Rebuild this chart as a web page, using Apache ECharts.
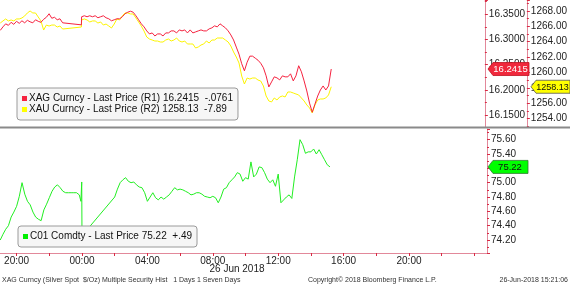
<!DOCTYPE html>
<html><head><meta charset="utf-8">
<script src="https://cdn.jsdelivr.net/npm/echarts@6/dist/echarts.min.js"></script>
<style>html,body{margin:0;padding:0;background:#fff}#c{width:570px;height:285px}</style>
</head><body><div id="c"></div>
<script>
const FONT = 'Liberation Sans, Arial, sans-serif';
function range(a, b, s) { const r = []; for (let v = a; v <= b; v += s) r.push(v); return r; }

// sample times in minutes from 00:00, 26 Jun 2018
const metalTimes = range(-300, -70, 10).concat([-1], range(0, 920, 10));
const brentTimes = range(-300, -10, 10).concat([-4, -1, 0], range(120, 910, 10));

const xagValues = [
  16.318, 16.325, 16.331, 16.328, 16.334, 16.330, 16.336, 16.332, 16.337, 16.333,
  16.338, 16.335, 16.333, 16.339, 16.336, 16.334, 16.340, 16.344, 16.351, 16.342,
  16.344, 16.339, 16.341, 16.333,
  16.329,
  16.345, 16.347, 16.345, 16.347, 16.345, 16.347, 16.343, 16.345, 16.347, 16.343,
  16.341, 16.337, 16.339, 16.341, 16.341, 16.345, 16.351, 16.354, 16.356, 16.354,
  16.347, 16.339, 16.331, 16.325, 16.317, 16.311, 16.313, 16.307, 16.311, 16.311,
  16.307, 16.313, 16.313, 16.317, 16.317, 16.313, 16.319, 16.317, 16.319, 16.313,
  16.319, 16.313, 16.315, 16.317, 16.319, 16.317, 16.317, 16.321, 16.323, 16.327,
  16.325, 16.331, 16.327, 16.323, 16.317, 16.309, 16.299, 16.285, 16.271, 16.252,
  16.238, 16.255, 16.267, 16.267, 16.263, 16.259, 16.253, 16.244, 16.228, 16.206,
  16.216, 16.226, 16.224, 16.220, 16.228, 16.226, 16.226, 16.232, 16.218, 16.228,
  16.248, 16.236, 16.218, 16.198, 16.174, 16.156, 16.172, 16.188, 16.200, 16.208,
  16.200, 16.208, 16.2415
];
const xauValues = [
  1266.43, 1266.70, 1266.96, 1266.70, 1266.83, 1266.70, 1266.96, 1266.96, 1267.09, 1267.35,
  1267.74, 1268.00, 1267.74, 1267.74, 1267.22, 1266.70, 1265.52, 1266.17, 1266.04, 1266.17,
  1266.17, 1265.91, 1266.04, 1265.65,
  1265.91,
  1266.83, 1266.96, 1266.83, 1266.57, 1266.70, 1266.70, 1266.43, 1266.57, 1266.17, 1266.30,
  1266.04, 1265.78, 1266.30, 1266.96, 1266.83, 1267.35, 1267.74, 1267.74, 1267.61, 1267.61,
  1267.09, 1266.57, 1266.04, 1265.39, 1264.61, 1264.35, 1264.22, 1264.09, 1264.09, 1263.96,
  1263.96, 1264.22, 1264.35, 1264.09, 1264.22, 1264.48, 1264.09, 1263.96, 1264.09, 1263.70,
  1263.70, 1263.70, 1263.18, 1263.31, 1263.57, 1263.70, 1264.09, 1263.83, 1264.22, 1264.22,
  1264.48, 1264.48, 1264.48, 1264.22, 1263.96, 1263.44, 1262.66, 1262.01, 1261.23, 1259.53,
  1258.49, 1259.27, 1259.14, 1259.27, 1259.27, 1259.01, 1258.88, 1258.23, 1256.93, 1256.28,
  1256.15, 1256.67, 1256.41, 1256.80, 1256.93, 1256.80, 1257.45, 1257.45, 1257.32, 1257.19,
  1257.06, 1256.67, 1256.28, 1255.76, 1255.37, 1254.72, 1255.76, 1256.41, 1256.54, 1256.54,
  1256.67, 1257.06, 1258.13
];
const co1Values = [
  74.20, 74.28, 74.35, 74.40, 74.52, 74.59, 74.67, 74.81, 75.00, 74.84,
  74.74, 74.69, 74.59, 74.52, 74.49, 74.47, 74.62, 74.70, 74.79, 74.88,
  74.94, 74.97, 74.93, 74.88, 74.86, 74.86, 74.86, 74.86, 74.86, 74.83,
  74.74, 75.01, 74.26,
  74.80, 74.91, 75.00, 75.04, 75.07, 75.02, 75.00, 75.01, 74.97, 74.94,
  74.93, 74.86, 74.74, 74.80, 74.86, 74.79, 74.76, 74.80, 74.77, 74.80,
  74.83, 74.88, 74.93, 74.90, 74.91, 74.90, 74.88, 74.86, 74.83, 74.84,
  74.86, 74.86, 74.84, 74.81, 74.80, 74.79, 74.81, 74.79, 74.72, 74.80,
  74.91, 74.93, 75.00, 75.04, 75.08, 75.14, 75.12, 75.02, 75.07, 75.05,
  75.29, 75.08, 75.12, 75.22, 75.21, 75.14, 75.05, 75.00, 75.04, 74.95,
  75.12, 74.72, 74.76, 74.80, 74.83, 74.78, 75.08, 75.32, 75.60, 75.53,
  75.41, 75.43, 75.43, 75.47, 75.40, 75.46, 75.39, 75.32, 75.25, 75.22
];

const seriesNames = ['XAG Curncy', 'XAU Curncy', 'C01 Comdty'];
const axisTags = ['(R1) ', '(R2) ', ''];
const lastLabels = ['16.2415', '1258.13', '75.22'];
const changes = ['-.0761', '-7.89', '+.49'];
const dateLabel = '26 Jun 2018';
const footer = ['XAG Curncy (Silver Spot  $/Oz) Multiple Security Hist   1 Days 1 Seven Days',
  'Copyright\u00a9 2018 Bloomberg Finance L.P.', '26-Jun-2018 15:21:06'];

const colors = ['#f5223f', '#fcf400', '#22ee22'];
const legendNames = seriesNames.map((n, i) => `${n} - Last Price ${axisTags[i]}${lastLabels[i]}  ${changes[i]}`);

const AXIS_LINE = '#e2889a';
const TICK = '#d82a44';
const X_MIN = -300.9, X_MAX = 1486.2;

function hhmm(v) {
  const h = ((Math.round(v / 60) % 24) + 24) % 24;
  return (h < 10 ? '0' : '') + h + ':00';
}
function yAxis(grid, min, max, step, dec, offset) {
  return {
    type: 'value', gridIndex: grid, position: 'right', offset: offset,
    min: min, max: max, minInterval: step, maxInterval: step, splitNumber: 6,
    axisLine: { show: true, onZero: false, lineStyle: { color: AXIS_LINE, width: 1 } },
    axisTick: { show: true, length: 3, lineStyle: { color: TICK } },
    minorTick: { show: true, splitNumber: 2, length: 2, lineStyle: { color: TICK } },
    splitLine: { show: false },
    axisLabel: { fontFamily: FONT, fontSize: 10, color: '#222', margin: 4,
      showMinLabel: false, showMaxLabel: false,
      formatter: v => v.toFixed(dec) }
  };
}
const legendRich = {
  s0: { width: 5, height: 5, backgroundColor: colors[0], verticalAlign: 'middle' },
  s1: { width: 5, height: 5, backgroundColor: '#ffff00', verticalAlign: 'middle' },
  s2: { width: 5, height: 5, backgroundColor: '#00ee00', verticalAlign: 'middle' },
  t: { fontFamily: FONT, fontSize: 10, color: '#111', padding: [0, 0, 0, 2], lineHeight: 11, verticalAlign: 'middle' }
};
function legendFmt(name) { return `{s${legendNames.indexOf(name)}|}{t|${name}}`; }
function legend(names, left, top) {
  return { data: names, orient: 'vertical', left: left, top: top,
    icon: 'rect', itemWidth: 0, itemHeight: 0, itemGap: 0, selectedMode: false,
    backgroundColor: '#f6f6f6', borderColor: '#9a9a9a', borderWidth: 1, borderRadius: 3,
    padding: [5, 5, 5, 0], formatter: legendFmt,
    textStyle: { fontFamily: FONT, fontSize: 10, color: '#111', lineHeight: 11, rich: legendRich } };
}

const chart = echarts.init(document.getElementById('c'), null, { renderer: 'canvas' });
const option = {
  animation: false,
  backgroundColor: '#ffffff',
  textStyle: { fontFamily: FONT },
  grid: [
    { left: 0, right: 83, top: 0, height: 127 },
    { left: 0, right: 83, top: 129, bottom: 32 }
  ],
  xAxis: [
    { type: 'value', gridIndex: 0, min: X_MIN, max: X_MAX, show: false, axisLine: { onZero: false } },
    { type: 'value', gridIndex: 1, min: X_MIN, max: X_MAX, minInterval: 120, maxInterval: 120, splitNumber: 15,
      axisLine: { show: true, onZero: false, lineStyle: { color: AXIS_LINE, width: 1 } },
      axisTick: { show: true, length: 3, lineStyle: { color: TICK } },
      splitLine: { show: false },
      axisLabel: { fontFamily: FONT, fontSize: 10, color: '#222', margin: 3,
        showMinLabel: false, showMaxLabel: false,
        formatter: v => (Math.abs(v % 240) > 0.01 || v >= 1440 || v < -290) ? '' : hhmm(v) } }
  ],
  yAxis: [
    yAxis(0, 16.1267, 16.3782, 0.05, 4, 0),
    yAxis(0, 1252.89, 1269.43, 2, 2, 42),
    yAxis(1, 74.019, 75.749, 0.2, 2, 0)
  ],
  legend: [
    legend([legendNames[0], legendNames[1]], 17, 88),
    legend([legendNames[2]], 18, 226)
  ],
  series: [
    { type: 'line', name: legendNames[1], xAxisIndex: 0, yAxisIndex: 1, showSymbol: false, symbol: 'none',
      data: metalTimes.map((t, i) => [t, xauValues[i]]),
      lineStyle: { width: 1, color: colors[1] }, itemStyle: { color: colors[1] } },
    { type: 'line', name: legendNames[0], xAxisIndex: 0, yAxisIndex: 0, showSymbol: false, symbol: 'none',
      data: metalTimes.map((t, i) => [t, xagValues[i]]),
      lineStyle: { width: 1, color: colors[0] }, itemStyle: { color: colors[0] } },
    { type: 'line', name: legendNames[2], xAxisIndex: 1, yAxisIndex: 2, showSymbol: false, symbol: 'none',
      data: brentTimes.map((t, i) => [t, co1Values[i]]),
      lineStyle: { width: 1, color: colors[2] }, itemStyle: { color: colors[2] } }
  ]
};
chart.setOption(option);

function tag(id, axisIndex, value, left, right, fill, stroke, textColor, label, fontPx) {
  const cy = chart.convertToPixel({ yAxisIndex: axisIndex }, value);
  const h = 6.5;
  return [
    { type: 'polygon', id: id + 'p', z: 100,
      shape: { points: [[left, cy], [left + 5, cy - h], [right, cy - h], [right, cy + h], [left + 5, cy + h]] },
      style: { fill: fill, stroke: stroke, lineWidth: 0.8 } },
    { type: 'text', id: id + 't', z: 101,
      style: { text: label, x: (left + 4 + right) / 2, y: cy + 0.5, fill: textColor,
        font: fontPx + 'px ' + FONT, textAlign: 'center', textVerticalAlign: 'middle',
        align: 'center', verticalAlign: 'middle' } }
  ];
}

const graphics = [
  { type: 'rect', id: 'sep', z: 50, shape: { x: 0, y: 126.5, width: 570, height: 2 }, style: { fill: '#8a8a8a' } },
  { type: 'text', id: 'date', z: 50, style: { text: dateLabel, x: 237, y: 269, fill: '#222', font: '10px ' + FONT,
      textAlign: 'center', textVerticalAlign: 'middle', align: 'center', verticalAlign: 'middle' } },
  { type: 'text', id: 'f1', z: 50, style: { text: footer[0], x: 2, y: 280, fill: '#333', font: '7px ' + FONT,
      textAlign: 'left', textVerticalAlign: 'middle', align: 'left', verticalAlign: 'middle' } },
  { type: 'text', id: 'f2', z: 50, style: { text: footer[1], x: 308, y: 280, fill: '#333', font: '7px ' + FONT,
      textAlign: 'left', textVerticalAlign: 'middle', align: 'left', verticalAlign: 'middle' } },
  { type: 'text', id: 'f3', z: 50, style: { text: footer[2], x: 568, y: 280, fill: '#333', font: '7px ' + FONT,
      textAlign: 'right', textVerticalAlign: 'middle', align: 'right', verticalAlign: 'middle' } }
]
  .concat(tag('r1', 0, xagValues[xagValues.length - 1], 488, 529, '#f0283c', '#c01020', '#ffffff', lastLabels[0], 9.5))
  .concat(tag('r2', 1, xauValues[xauValues.length - 1], 531, 570, '#ffff00', '#555555', '#111111', lastLabels[1], 9))
  .concat(tag('r3', 2, co1Values[co1Values.length - 1], 488, 528, '#00ff00', '#337733', '#111111', lastLabels[2], 9.5));

chart.setOption({ graphic: graphics });
</script>
</body></html>
